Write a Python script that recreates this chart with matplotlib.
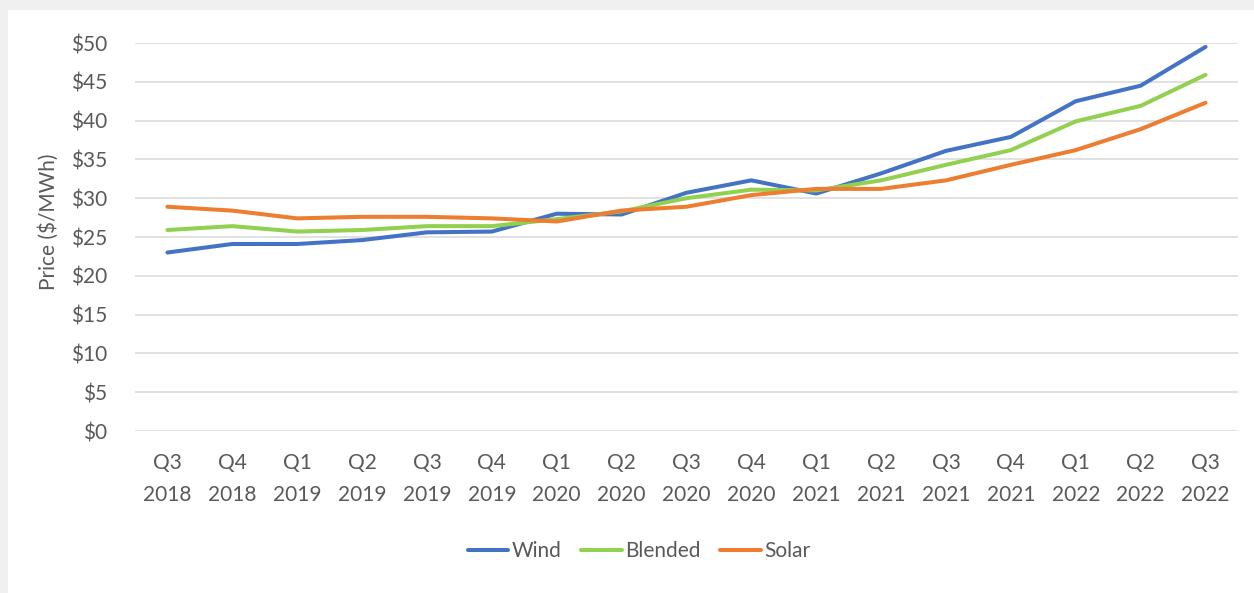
import numpy as np
import matplotlib
matplotlib.use('Agg')
import matplotlib.pyplot as plt
from matplotlib.patches import Rectangle
from matplotlib.ticker import FuncFormatter

plt.rcParams['font.family'] = ['Lato', 'DejaVu Sans']

quarters = ['Q3\n2018', 'Q4\n2018', 'Q1\n2019', 'Q2\n2019', 'Q3\n2019', 'Q4\n2019',
            'Q1\n2020', 'Q2\n2020', 'Q3\n2020', 'Q4\n2020', 'Q1\n2021', 'Q2\n2021',
            'Q3\n2021', 'Q4\n2021', 'Q1\n2022', 'Q2\n2022', 'Q3\n2022']

wind = [23.0, 24.1, 24.1, 24.6, 25.6, 25.7, 28.0, 27.9, 30.7, 32.3, 30.6, 33.2,
        36.1, 37.9, 42.5, 44.5, 49.5]
blended = [25.9, 26.4, 25.7, 25.9, 26.4, 26.4, 27.3, 28.3, 30.0, 31.1, 31.0, 32.3,
           34.3, 36.2, 39.9, 41.9, 45.9]
solar = [28.9, 28.4, 27.4, 27.6, 27.6, 27.4, 27.0, 28.4, 28.9, 30.4, 31.2, 31.2,
         32.3, 34.3, 36.2, 38.9, 42.3]

text_col = '#595959'
grid_col = '#d9d9d9'
fs = 15

fig = plt.figure(figsize=(12.54, 5.93), dpi=100, facecolor='#f0f0f0')
# white chart panel on the grey page
fig.patches.append(Rectangle((8/1254, 0), 1 - 8/1254, 1 - 10/593,
                             transform=fig.transFigure, facecolor='white',
                             edgecolor='none', zorder=-5))

ax = fig.add_axes([135/1254, 1 - 431/593, (1238 - 135)/1254, (431 - 43)/593])
ax.set_facecolor('none')

x = np.arange(len(quarters))
ax.plot(x, wind, color='#4472c4', lw=2.9, label='Wind', solid_capstyle='round')
ax.plot(x, blended, color='#92d050', lw=2.9, label='Blended', solid_capstyle='round')
ax.plot(x, solar, color='#ed7d31', lw=2.9, label='Solar', solid_capstyle='round')

ax.set_xlim(-0.5, len(quarters) - 0.5)
ax.set_ylim(0, 50)
ax.set_yticks(np.arange(0, 51, 5))
ax.yaxis.set_major_formatter(FuncFormatter(lambda v, p: f'${v:.0f}'))
ax.set_xticks(x)
ax.set_xticklabels(quarters, linespacing=1.75)

for s in ax.spines.values():
    s.set_visible(False)
ax.grid(axis='y', color=grid_col, lw=1.1)
ax.set_axisbelow(True)
ax.tick_params(axis='both', length=0, labelsize=fs, labelcolor=text_col)
ax.tick_params(axis='y', pad=20)
ax.tick_params(axis='x', pad=16)

ax.set_ylabel('Price ($/MWh)', fontsize=fs, color=text_col, labelpad=9, y=0.54)

fig.legend(loc='center', bbox_to_anchor=(639/1254, 1 - 551/593), ncol=3,
           frameon=False, fontsize=fs, labelcolor=text_col, handlelength=1.95,
           handletextpad=0.15, columnspacing=0.95)

fig.savefig('out.png', dpi=100, facecolor=fig.get_facecolor())
